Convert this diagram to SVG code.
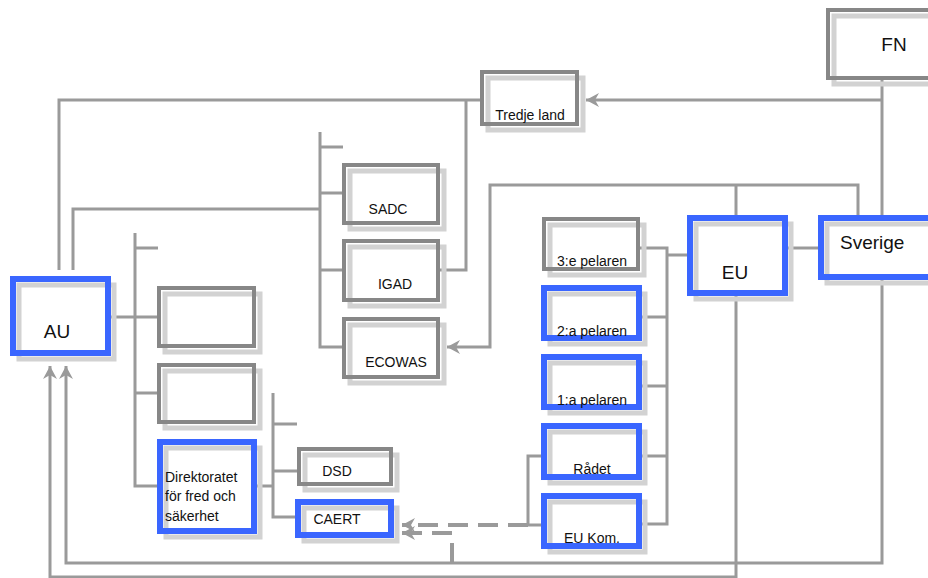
<svg xmlns="http://www.w3.org/2000/svg" width="928" height="578" viewBox="0 0 928 578">
<style>
.bx{fill:#fff;stroke:#878787;stroke-width:4}
.bb{fill:#fff;stroke:#3a66ff;stroke-width:6}
.sh{fill:none;stroke:#d2d2d2;stroke-width:5}
.c{fill:none;stroke:#9a9a9a;stroke-width:3}
.d{fill:none;stroke:#9a9a9a;stroke-width:4;stroke-dasharray:20 10}
.t{font-family:"Liberation Sans",Arial,sans-serif;font-size:14px;fill:#111}
.L{font-family:"Liberation Sans",Arial,sans-serif;font-size:19px;fill:#111}
</style>
<defs>
<marker id="ar" viewBox="-1 -8 16 16" refX="13" refY="0" markerWidth="16" markerHeight="16" markerUnits="userSpaceOnUse" orient="auto">
<path d="M0,-7 L13,0 L0,7 L4,0 z" fill="#9a9a9a"/>
</marker>
</defs>
<g id="connectors">
<path class="c" d="M882,80 V215"/>
<path class="c" d="M882,100 H586" marker-end="url(#ar)"/>
<path class="c" d="M882,280 V563 H66 V366" marker-end="url(#ar)"/>
<path class="c" d="M736,296 V577 H50 V366" marker-end="url(#ar)"/>
<path class="c" d="M480,100 H59 V270"/>
<path class="c" d="M466,100 V270 H440"/>
<path class="c" d="M73,270 V209 H320"/>
<path class="c" d="M320,132 V347 H342 M320,147 H343 M320,193 H342 M320,270 H342"/>
<path class="c" d="M858,215 V185 H490 V347 H447" marker-end="url(#ar)"/>
<path class="c" d="M736,215 V185"/>
<path class="c" d="M788,248 H818"/>
<path class="c" d="M640,248 H667 V524 H642 M640,317 H667 M640,386 H667 M640,456 H667 M667,255 H687"/>
<path class="c" d="M111,317 H157 M135,233 V486 H157 M135,248 H158 M135,393 H157"/>
<path class="c" d="M257,486 H273 M273,393 V517 H297 M273,424 H297 M273,471 H297"/>
<path class="c" d="M542,456 H528 V525 H542"/>
<path class="d" d="M528,525 H402" marker-end="url(#ar)"/>
<path class="d" d="M452,563 V533 H402" marker-end="url(#ar)"/>
</g>
<g id="FN"><rect class="bx" x="828" y="10" width="110" height="68"/><rect class="sh" x="834" y="16" width="110" height="68"/><rect class="bx" x="828" y="10" width="110" height="68" style="fill:none"/><text class="L" x="894" y="51" text-anchor="middle">FN</text></g>
<g id="Tredje"><rect class="bx" x="482" y="72" width="95" height="52"/><rect class="sh" x="488" y="78" width="95" height="52"/><rect class="bx" x="482" y="72" width="95" height="52" style="fill:none"/><text class="t" x="530" y="120" text-anchor="middle">Tredje land</text></g>
<g id="SADC"><rect class="bx" x="344" y="165" width="94" height="58"/><rect class="sh" x="350" y="171" width="94" height="58"/><rect class="bx" x="344" y="165" width="94" height="58" style="fill:none"/><text class="t" x="388" y="214" text-anchor="middle">SADC</text></g>
<g id="IGAD"><rect class="bx" x="344" y="241" width="94" height="59"/><rect class="sh" x="350" y="247" width="94" height="59"/><rect class="bx" x="344" y="241" width="94" height="59" style="fill:none"/><text class="t" x="395" y="289" text-anchor="middle">IGAD</text></g>
<g id="ECOWAS"><rect class="bx" x="344" y="319" width="94" height="58"/><rect class="sh" x="350" y="325" width="94" height="58"/><rect class="bx" x="344" y="319" width="94" height="58" style="fill:none"/><text class="t" x="396" y="367" text-anchor="middle">ECOWAS</text></g>
<g id="Box1"><rect class="bx" x="159" y="288" width="95" height="58"/><rect class="sh" x="165" y="294" width="95" height="58"/><rect class="bx" x="159" y="288" width="95" height="58" style="fill:none"/></g>
<g id="Box2"><rect class="bx" x="159" y="365" width="95" height="57"/><rect class="sh" x="165" y="371" width="95" height="57"/><rect class="bx" x="159" y="365" width="95" height="57" style="fill:none"/></g>
<g id="DSD"><rect class="bx" x="299" y="449" width="92" height="35"/><rect class="sh" x="305" y="455" width="92" height="35"/><rect class="bx" x="299" y="449" width="92" height="35" style="fill:none"/><text class="t" x="337" y="476" text-anchor="middle">DSD</text></g>
<g id="Pelare3"><rect class="bx" x="544" y="219" width="94" height="50"/><rect class="sh" x="550" y="225" width="94" height="50"/><rect class="bx" x="544" y="219" width="94" height="50" style="fill:none"/><text class="t" x="592" y="266" text-anchor="middle">3:e pelaren</text></g>
<g id="AU"><rect class="bb" x="13" y="279" width="95" height="74"/><rect class="sh" x="19" y="285" width="95" height="74"/><rect class="bb" x="13" y="279" width="95" height="74" style="fill:none"/><text class="L" x="57" y="338" text-anchor="middle">AU</text></g>
<g id="Direktoratet"><rect class="bb" x="160" y="442" width="94" height="89"/><rect class="sh" x="166" y="448" width="94" height="89"/><rect class="bb" x="160" y="442" width="94" height="89" style="fill:none"/><text class="t" x="165" y="482">Direktoratet</text><text class="t" x="165" y="501">för fred och</text><text class="t" x="165" y="521">säkerhet</text></g>
<g id="CAERT"><rect class="bb" x="298" y="502" width="93" height="33"/><rect class="sh" x="304" y="508" width="93" height="33"/><rect class="bb" x="298" y="502" width="93" height="33" style="fill:none"/><text class="t" x="337" y="524" text-anchor="middle">CAERT</text></g>
<g id="Pelare2"><rect class="bb" x="544" y="288" width="95" height="50"/><rect class="sh" x="550" y="294" width="95" height="50"/><rect class="bb" x="544" y="288" width="95" height="50" style="fill:none"/><text class="t" x="592" y="336" text-anchor="middle">2:a pelaren</text></g>
<g id="Pelare1"><rect class="bb" x="544" y="357" width="95" height="50"/><rect class="sh" x="550" y="363" width="95" height="50"/><rect class="bb" x="544" y="357" width="95" height="50" style="fill:none"/><text class="t" x="592" y="405" text-anchor="middle">1:a pelaren</text></g>
<g id="Radet"><rect class="bb" x="544" y="426" width="95" height="51"/><rect class="sh" x="550" y="432" width="95" height="51"/><rect class="bb" x="544" y="426" width="95" height="51" style="fill:none"/><text class="t" x="592" y="474" text-anchor="middle">Rådet</text></g>
<g id="EUKom"><rect class="bb" x="544" y="496" width="95" height="50"/><rect class="sh" x="550" y="502" width="95" height="50"/><rect class="bb" x="544" y="496" width="95" height="50" style="fill:none"/><text class="t" x="592" y="543" text-anchor="middle">EU Kom.</text></g>
<g id="EU"><rect class="bb" x="690" y="218" width="95" height="75"/><rect class="sh" x="696" y="224" width="95" height="75"/><rect class="bb" x="690" y="218" width="95" height="75" style="fill:none"/><text class="L" x="735" y="279" text-anchor="middle">EU</text></g>
<g id="Sverige"><rect class="bb" x="821" y="218" width="115" height="59"/><rect class="sh" x="827" y="224" width="115" height="59"/><rect class="bb" x="821" y="218" width="115" height="59" style="fill:none"/><text class="L" x="840" y="249">Sverige</text></g>
</svg>
